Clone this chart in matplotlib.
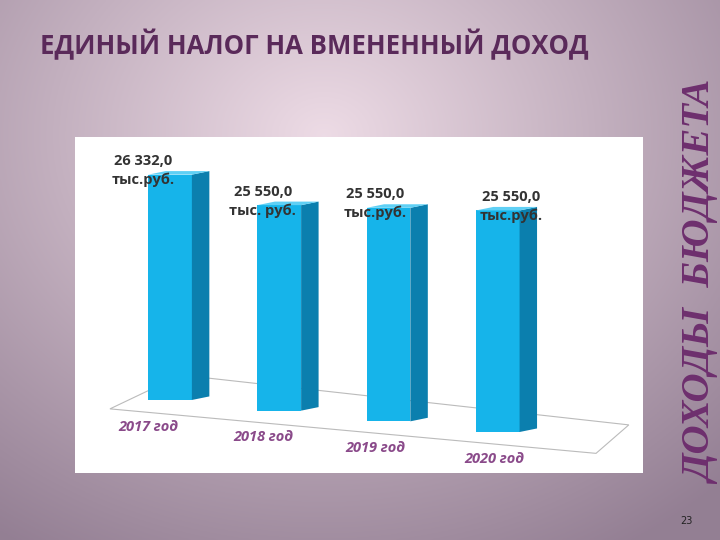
import numpy as np
import matplotlib.pyplot as plt
from matplotlib.patches import Polygon

years = ["2017 год", "2018 год", "2019 год", "2020 год"]
values = [26332.0, 25550.0, 25550.0, 25550.0]
value_labels = ["26 332,0\nтыс.руб.", "25 550,0\nтыс. руб.", "25 550,0\nтыс.руб.", "25 550,0\nтыс.руб."]

base = 20000.0
front = "#16b4ea"
side = "#0b7fae"
top_c = "#5fd0f5"

fig = plt.figure(figsize=(7.2, 5.4), dpi=100)

# slide background
bg = fig.add_axes([0, 0, 1, 1])
yy, xx = np.mgrid[0:1:300j, 0:1:400j]
r = np.sqrt((xx - 0.45) ** 2 + ((yy - 0.25) * 0.9) ** 2)
c0 = np.array([0.93, 0.86, 0.90])
c1 = np.array([0.58, 0.50, 0.58])
t = np.clip(r / 0.8, 0, 1)[..., None]
bg.imshow(c0 * (1 - t) + c1 * t, extent=[0, 1, 0, 1], aspect="auto", origin="upper")
bg.axis("off")

fig.text(40 / 720, 1 - 45 / 540, "ЕДИНЫЙ НАЛОГ НА ВМЕНЕННЫЙ ДОХОД", fontsize=18.5,
         fontweight="bold", color="#5a2a5a", family="Open Sans", va="center")
fig.text(703 / 720, 1 - 283 / 540, "ДОХОДЫ  БЮДЖЕТА", rotation=90, fontsize=29,
         fontstyle="italic", fontweight="bold", color="#6e2f6e",
         family="Liberation Serif", ha="center", va="center")
fig.text(686 / 720, 1 - 524 / 540, "23", fontsize=7, color="#222222", ha="center")

ax = fig.add_axes([75 / 720, 1 - 473 / 540, 568 / 720, 336 / 540])
ax.set_xlim(-0.87, 4.33)
ax.set_ylim(17948, 27390)
ax.set_facecolor("white")
for s in ax.spines.values():
    s.set_visible(False)
ax.set_xticks([])
ax.set_yticks([])

w = 0.4
dx = 0.16
dy = 100
tilt = [0, -300, -600, -900]  # perspective drop of floor
label_x = [-0.25, 0.85, 1.88, 3.12]
year_x = [-0.2, 0.85, 1.88, 2.97]

# floor
ax.add_patch(Polygon([(-0.55, base - 250), (3.9, base - 1500), (4.2, base - 700), (0.1, base + 700)],
                     closed=True, fill=False, edgecolor="#bbbbbb", lw=0.8))

for i, (v, lab, yr) in enumerate(zip(values, value_labels, years)):
    b = base + tilt[i]
    top = v + tilt[i] * 0.25
    x0 = i - w / 2
    ax.bar(i, top - b, bottom=b, width=w, color=front, edgecolor="none")
    ax.add_patch(Polygon([(x0 + w, b), (x0 + w + dx, b + dy), (x0 + w + dx, top + dy), (x0 + w, top)],
                         closed=True, color=side, lw=0))
    ax.add_patch(Polygon([(x0, top), (x0 + dx, top + dy), (x0 + w + dx, top + dy), (x0 + w, top)],
                         closed=True, color=top_c, lw=0))
    ax.text(label_x[i], top - 350, lab, fontsize=10.5, fontweight="bold", color="#333333",
            ha="center", va="bottom", family="Open Sans", linespacing=1.4)
    ax.text(year_x[i], b - 550, yr, fontsize=10.5, fontweight="bold", fontstyle="italic",
            color="#8a4a8a", ha="center", va="top", family="Open Sans")

fig.savefig("out.png", dpi=100)
